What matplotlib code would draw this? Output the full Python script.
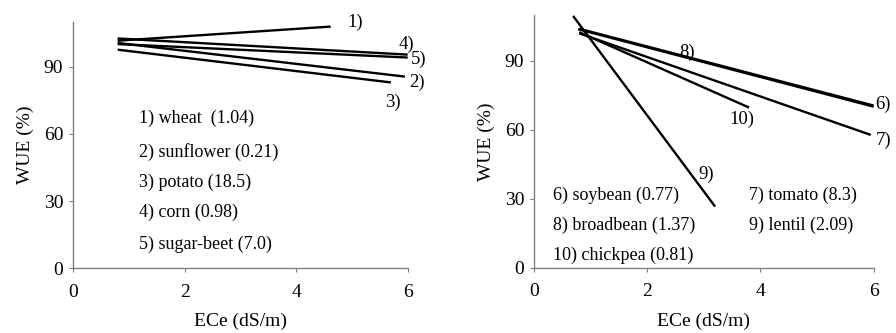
import matplotlib.pyplot as plt

plt.rcParams['font.family'] = ['Liberation Serif', 'DejaVu Serif']

# left panel: (start ECe, start WUE, end ECe, end WUE)
left_names = ['1) wheat  (1.04)', '2) sunflower (0.21)', '3) potato (18.5)',
              '4) corn (0.98)', '5) sugar-beet (7.0)']
left_x0 = [0.8, 0.8, 0.8, 0.8, 0.8]
left_y0 = [101.5, 100.5, 97.5, 102.5, 100.0]
left_x1 = [4.62, 5.95, 5.7, 6.0, 6.0]
left_y1 = [107.8, 85.5, 82.9, 95.3, 94.0]
left_tags = ['1)', '2)', '3)', '4)', '5)']

# right panel
right_names = ['6) soybean (0.77)', '7) tomato (8.3)', '8) broadbean (1.37)',
               '9) lentil (2.09)', '10) chickpea (0.81)']
right_x0 = [0.78, 0.8, 0.8, 0.69, 0.8]
right_y0 = [103.8, 102.0, 104.0, 109.6, 102.5]
right_x1 = [6.0, 5.95, 6.0, 3.2, 3.8]
right_y1 = [70.1, 57.8, 70.6, 26.6, 69.7]
right_tags = ['6)', '7)', '8)', '9)', '10)']

# label spots (data coords)
left_tag_pos = [(4.92, 109.6), (6.02, 83), (5.6, 74), (5.84, 100), (6.05, 93)]
left_leg_pos = [(1.18, 66.8), (1.18, 52), (1.18, 38.3), (1.18, 25), (1.18, 10.8)]
right_tag_pos = [(6.03, 71.3), (6.03, 55.6), (2.57, 93.9), (2.9, 40.8), (3.45, 64.7)]
right_leg_pos = [(0.335, 31.6), (3.8, 31.6), (0.335, 18.6), (3.8, 18.6), (0.335, 5.5)]


def style(ax):
    ax.set_xlim(0, 6)
    ax.set_ylim(0, 110)
    ax.set_xticks([0, 2, 4, 6])
    ax.set_yticks([0, 30, 60, 90])
    for s in ['top', 'right']:
        ax.spines[s].set_visible(False)
    for s in ['left', 'bottom']:
        ax.spines[s].set_color('#808080')
        ax.spines[s].set_linewidth(1.0)
    ax.tick_params(direction='out', length=3, color='#808080', labelsize=14)
    ax.tick_params(axis='x', pad=8)
    ax.tick_params(axis='y', pad=4)
    ax.set_xlabel('ECe (dS/m)', fontsize=14, labelpad=9)
    ax.set_ylabel('WUE (%)', fontsize=14, labelpad=7)


fig = plt.figure(figsize=(8.96, 3.33), dpi=100)
ax1 = fig.add_axes([0.0815, 0.194, 0.3735, 0.741])
ax2 = fig.add_axes([0.596, 0.196, 0.379, 0.759])

for i in range(5):
    ax1.plot([left_x0[i], left_x1[i]], [left_y0[i], left_y1[i]], color='black',
             lw=1.7, solid_capstyle='butt', clip_on=False)
    ax1.text(left_tag_pos[i][0], left_tag_pos[i][1], left_tags[i], fontsize=13.5,
             va='center', ha='left')
    ax1.text(left_leg_pos[i][0], left_leg_pos[i][1], left_names[i], fontsize=13,
             va='center', ha='left')

for i in range(5):
    ax2.plot([right_x0[i], right_x1[i]], [right_y0[i], right_y1[i]], color='black',
             lw=1.7, solid_capstyle='butt', clip_on=False)
    ax2.text(right_tag_pos[i][0], right_tag_pos[i][1], right_tags[i], fontsize=13.5,
             va='center', ha='left')
    ax2.text(right_leg_pos[i][0], right_leg_pos[i][1], right_names[i], fontsize=13,
             va='center', ha='left')

style(ax1)
style(ax2)

fig.savefig('out.png', dpi=100)
